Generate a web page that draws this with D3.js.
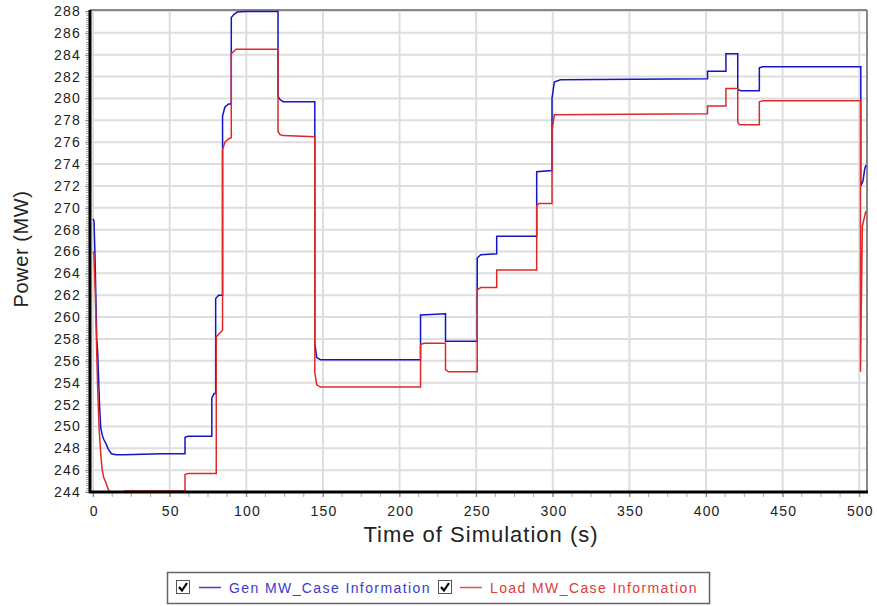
<!DOCTYPE html>
<html><head><meta charset="utf-8">
<script src="https://cdn.jsdelivr.net/npm/d3@7"></script>
<style>body{margin:0;background:#fff;}svg{display:block;font-family:"Liberation Sans",Arial,sans-serif;}</style>
</head><body>
<svg id="c" width="877" height="606"></svg>
<script>
const xTicks=[0,50,100,150,200,250,300,350,400,450,500];
const yTicks=[244,246,248,250,252,254,256,258,260,262,264,266,268,270,272,274,276,278,280,282,284,286,288];
const xTitle="Time of Simulation (s)";
const yTitle="Power (MW)";
const seriesNames=["Gen MW_Case Information","Load MW_Case Information"];
const seriesColors=["#1414c8","#e02828"];
const legendTextColors=["#3a3acc","#e03a3a"];

const genTime=[0,0.6,1.2,1.8,2.4,3,3.6,4.2,5,6,7,8.5,10,12,15,20,45,60,60,62,77.5,77.5,79,80,80,82,84.5,84.5,86,88.4,90.2,90.2,92,94,100,120.7,120.7,122,124,144.7,144.7,146,148.4,213.7,213.7,230,230,250.7,250.7,253,263.4,263.4,289.5,289.5,299.5,299.5,301,305,401,401,413,413,420.7,420.7,423,434.8,434.8,437,501,501,502.5,503.5,504.3];
const genMW=[269,268.8,266,262,258,256.8,254.5,252,249.9,249.2,248.8,248.4,247.9,247.5,247.4,247.4,247.5,247.5,249.0,249.1,249.1,252.6,253,253,261.7,262,262,278.4,279.2,279.5,279.5,287.4,287.7,287.9,287.95,287.95,280.2,279.9,279.7,279.7,257.6,256.3,256.1,256.1,260.2,260.3,257.8,257.8,265.4,265.7,265.8,267.4,267.4,273.3,273.4,280.0,281.5,281.7,281.8,282.5,282.5,284.1,284.1,280.8,280.7,280.7,282.8,282.9,282.9,272.0,272.5,273.5,273.9];
const loadTime=[0,0.5,1,1.5,2,2.5,3,3.5,4,5,6,7,8,9,10,11,12,20,20.5,60,60,62,80.4,80.4,84.5,84.5,86,88.4,90.2,90.2,93.3,120.7,120.7,122,124,144.7,144.7,146,148.4,213.7,213.7,216,230,230,232,250.7,250.7,253,263.4,263.4,289.5,289.5,291,299.5,299.5,301,401,401,413,413,420.7,420.7,422,434.8,434.8,437,500.8,500.8,502,502,503.5,504.3];
const loadMW=[266,265.8,264,262,259,256,253.5,251.5,249.7,247.5,246,245.3,245,244.6,244.2,244.05,244.0,244.0,244.1,244.1,245.6,245.7,245.7,258.2,258.8,275.3,276,276.3,276.4,284.1,284.5,284.5,277.0,276.7,276.6,276.5,254.9,253.8,253.6,253.6,257.5,257.6,257.6,255.2,255.0,255.0,262.5,262.7,262.7,264.3,264.3,270.2,270.4,270.4,277.0,278.5,278.6,279.3,279.3,280.9,280.9,277.8,277.6,277.6,279.7,279.8,279.8,255.0,268.0,268.3,269.2,269.7];

const svg=d3.select("#c");
const L=90,R=866,T=11,B=492;
const x=d3.scaleLinear().domain([-2,504.4]).range([L,R]);
const y=d3.scaleLinear().domain([244,288]).range([B,T]);

// grid
svg.append("g").selectAll("line").data(yTicks).join("line")
  .attr("x1",L).attr("x2",R).attr("y1",d=>y(d)).attr("y2",d=>y(d))
  .attr("stroke","#dedede").attr("stroke-width",2);
svg.append("g").selectAll("line").data(xTicks).join("line")
  .attr("y1",T).attr("y2",B).attr("x1",d=>x(d)).attr("x2",d=>x(d))
  .attr("stroke","#dedede").attr("stroke-width",2);

// border top/right
svg.append("line").attr("x1",L).attr("x2",R+1).attr("y1",T-1).attr("y2",T-1).attr("stroke","#888").attr("stroke-width",2);
svg.append("line").attr("x1",R+1).attr("x2",R+1).attr("y1",T-1).attr("y2",B).attr("stroke","#888").attr("stroke-width",2);

// series
const line=d3.line().x(d=>x(d[0])).y(d=>y(d[1]));
const gen=genTime.map((t,i)=>[t,genMW[i]]);
const load=loadTime.map((t,i)=>[t,loadMW[i]]);
svg.append("path").datum(gen).attr("d",line).attr("fill","none").attr("stroke",seriesColors[0]).attr("stroke-width",1.5);
svg.append("path").datum(load).attr("d",line).attr("fill","none").attr("stroke",seriesColors[1]).attr("stroke-width",1.5);

// y axis
const minorY=d3.range(244,288.01,0.2);
svg.append("g").selectAll("line").data(minorY).join("line")
  .attr("x1",L-4).attr("x2",L).attr("y1",d=>Math.round(y(d))+0.5).attr("y2",d=>Math.round(y(d))+0.5)
  .attr("stroke","#aaa").attr("stroke-width",1);
const ya=svg.append("g").attr("transform",`translate(${L},0)`)
  .call(d3.axisLeft(y).tickValues(yTicks).tickSize(5).tickPadding(4).tickFormat(d3.format("d")));
ya.select(".domain").remove();
ya.selectAll("line").attr("stroke","#888");
ya.selectAll("text").attr("font-size",14).attr("letter-spacing",1.2).attr("fill","#222");
svg.append("line").attr("x1",L).attr("x2",L).attr("y1",T-1).attr("y2",B+1).attr("stroke","#000").attr("stroke-width",3);

// x axis
const minorX=d3.range(0,504,12.5);
svg.append("g").selectAll("line").data(minorX).join("line")
  .attr("y1",B).attr("y2",B+5).attr("x1",d=>x(d)).attr("x2",d=>x(d))
  .attr("stroke","#aaa").attr("stroke-width",1);
const xa=svg.append("g").attr("transform",`translate(0,${B})`)
  .call(d3.axisBottom(x).tickValues(xTicks).tickSize(5).tickPadding(9).tickFormat(d3.format("d")));
xa.select(".domain").remove();
xa.selectAll("line").attr("stroke","#888");
xa.selectAll("text").attr("font-size",14).attr("letter-spacing",1.2).attr("fill","#222").attr("dx",0.6);
svg.append("line").attr("x1",L-1).attr("x2",R+2).attr("y1",B).attr("y2",B).attr("stroke","#000").attr("stroke-width",3);

// titles
svg.append("text").attr("x",481).attr("y",542).attr("text-anchor","middle").attr("font-size",22).attr("letter-spacing",1.0).attr("fill","#222").text(xTitle);
svg.append("text").attr("transform","translate(28,249) rotate(-90)").attr("text-anchor","middle").attr("font-size",20).attr("letter-spacing",0.6).attr("fill","#222").text(yTitle);

// legend
const lg=svg.append("g");
lg.append("rect").attr("x",167.5).attr("y",572.5).attr("width",542).attr("height",31).attr("fill","#fff").attr("stroke","#666").attr("stroke-width",1.5);
const items=[{cx:176,lx:199,tx:229},{cx:438,lx:460,tx:490}];
items.forEach((it,i)=>{
  lg.append("rect").attr("x",it.cx+0.5).attr("y",580.5).attr("width",13).attr("height",13).attr("fill","#fff").attr("stroke","#555");
  lg.append("path").attr("d",`M${it.cx+3},${587} L${it.cx+6},${590.5} L${it.cx+11},${583}`).attr("fill","none").attr("stroke","#000").attr("stroke-width",2.2);
  lg.append("line").attr("x1",it.lx).attr("x2",it.lx+22).attr("y1",587.5).attr("y2",587.5).attr("stroke",seriesColors[i]).attr("stroke-width",1.5).attr("opacity",0.8);
  lg.append("text").attr("x",it.tx).attr("y",592.5).attr("font-size",14).attr("letter-spacing",1.4).attr("fill",legendTextColors[i]).text(seriesNames[i]);
});
</script>
</body></html>
